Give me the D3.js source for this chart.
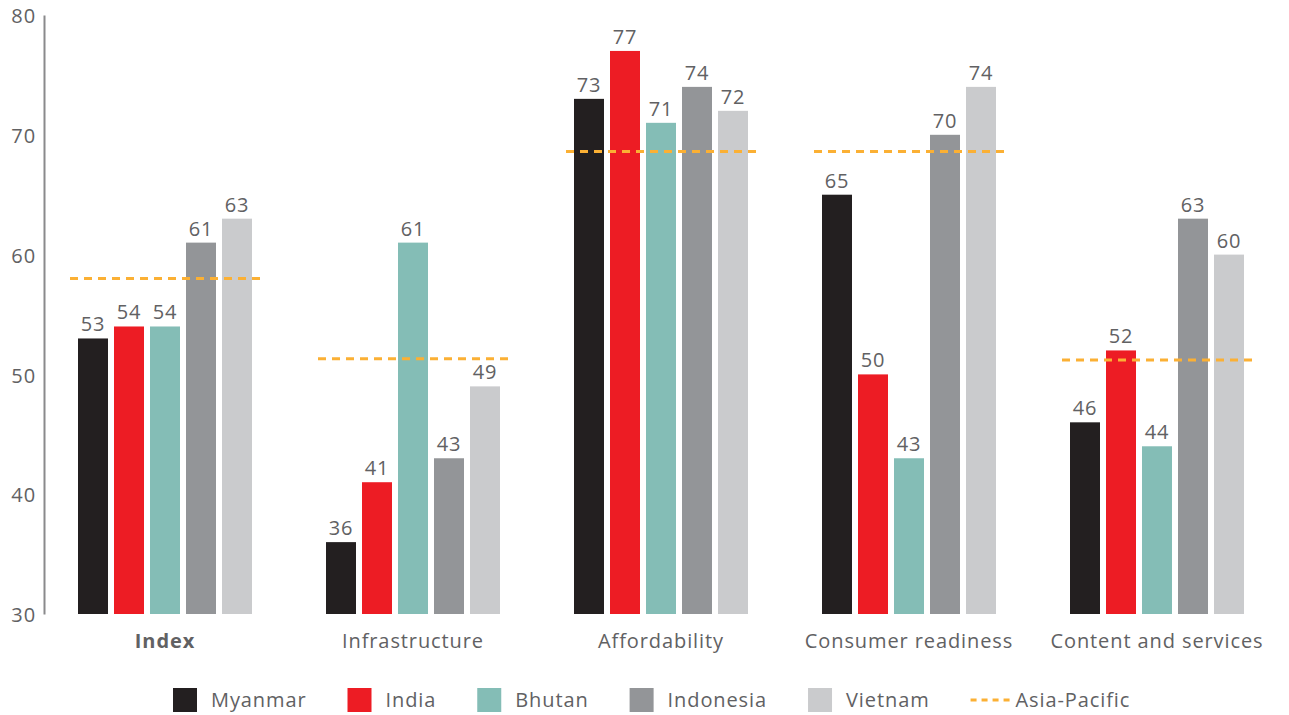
<!DOCTYPE html>
<html>
<head>
<meta charset="utf-8">
<script src="https://cdn.jsdelivr.net/npm/d3@7"></script>
<style>
  html, body { margin: 0; padding: 0; background: #fff; }
  svg { display: block; font-family: "Open Sans", "Noto Sans", sans-serif; letter-spacing: 0.9px; }
</style>
</head>
<body>
<svg id="chart" width="1289" height="715"></svg>
<script>
// Pillar categories and country series
const categories = ["Index", "Infrastructure", "Affordability", "Consumer readiness", "Content and services"];
const countries = ["Myanmar", "India", "Bhutan", "Indonesia", "Vietnam"];
const myanmar   = [53, 36, 73, 65, 46];
const india     = [54, 41, 77, 50, 52];
const bhutan    = [54, 61, 71, 43, 44];
const indonesia = [61, 43, 74, 70, 63];
const vietnam   = [63, 49, 72, 74, 60];
// Regional benchmark per pillar
const asiaPacific = [58, 51.3, 68.6, 68.6, 51.2];
const yTicks = [30, 40, 50, 60, 70, 80];

const colors = ["#231f20", "#ed1c24", "#84bdb6", "#939598", "#cacbcd"];
const benchColor = "#fbb034";
const textColor = "#616163";

const seriesValues = [myanmar, india, bhutan, indonesia, vietnam];
const rows = categories.map((c, i) => ({
  category: c,
  bench: asiaPacific[i],
  values: countries.map((k, j) => ({ country: k, value: seriesValues[j][i], color: colors[j] }))
}));

const svg = d3.select("#chart");
const plotLeft = 41, plotRight = 1281, plotTop = 15, plotBottom = 614;

const x0 = d3.scaleBand().domain(categories).range([plotLeft, plotRight]).padding(0);
const clusterWidth = 174;
const x1 = d3.scaleBand().domain(countries)
  .range([(x0.bandwidth() - clusterWidth) / 2, (x0.bandwidth() + clusterWidth) / 2])
  .paddingInner(6 / 36).paddingOuter(0);
const y = d3.scaleLinear().domain([30, 80]).range([plotBottom, plotTop]);

// Y axis
const yAxis = svg.append("g")
  .attr("transform", "translate(44,0)")
  .call(d3.axisLeft(y).tickValues(yTicks).tickSize(0).tickPadding(8));
yAxis.select(".domain").attr("stroke", "#8a8a8c").attr("stroke-width", 2);
yAxis.selectAll("text")
  .attr("fill", textColor)
  .attr("dy", "0.38em")
  .style("font-size", "20px")
  .style("font-family", "'Open Sans', sans-serif");

// Bar clusters
const groups = svg.append("g").selectAll("g")
  .data(rows).join("g")
  .attr("transform", d => `translate(${x0(d.category)},0)`);

groups.selectAll("rect")
  .data(d => d.values).join("rect")
  .attr("x", d => x1(d.country))
  .attr("y", d => y(d.value))
  .attr("width", x1.bandwidth())
  .attr("height", d => y(30) - y(d.value))
  .attr("fill", d => d.color);

groups.selectAll("text.val")
  .data(d => d.values).join("text")
  .attr("class", "val")
  .attr("x", d => x1(d.country) + x1.bandwidth() / 2)
  .attr("y", d => y(d.value) - 7)
  .attr("text-anchor", "middle")
  .attr("fill", textColor)
  .style("font-size", "20px")
  .text(d => d.value);

// Asia-Pacific benchmark lines
groups.append("line")
  .attr("x1", x1.range()[0] - 8)
  .attr("x2", x1.range()[1] + 8)
  .attr("y1", d => y(d.bench))
  .attr("y2", d => y(d.bench))
  .attr("stroke", benchColor)
  .attr("stroke-width", 3)
  .attr("stroke-dasharray", "8,6");

// Category labels
groups.append("text")
  .attr("x", x0.bandwidth() / 2)
  .attr("y", 648)
  .attr("text-anchor", "middle")
  .attr("fill", textColor)
  .style("font-size", "20px")
  .style("font-weight", (d, i) => i === 0 ? 700 : 400)
  .text(d => d.category);

// Legend
const legend = svg.append("g").attr("transform", "translate(173,700)");
const legendItems = countries.map((c, i) => ({ label: c, color: colors[i], kind: "box" }))
  .concat([{ label: "Asia-Pacific", color: benchColor, kind: "dash" }]);
let cursor = 0;
legendItems.forEach(item => {
  const g = legend.append("g").attr("transform", `translate(${cursor},0)`);
  let textX;
  if (item.kind === "box") {
    g.append("rect").attr("x", 0).attr("y", -12).attr("width", 24).attr("height", 24).attr("fill", item.color);
    textX = 38;
  } else {
    g.append("line").attr("x1", 0).attr("x2", 42).attr("y1", 0).attr("y2", 0)
      .attr("stroke", item.color).attr("stroke-width", 3).attr("stroke-dasharray", "6,5");
    textX = 45;
  }
  const t = g.append("text")
    .attr("x", textX).attr("y", 0).attr("dy", "0.35em")
    .attr("fill", textColor).style("font-size", "20px")
    .text(item.label);
  cursor += textX + t.node().getComputedTextLength() + 41;
});
</script>
</body>
</html>
